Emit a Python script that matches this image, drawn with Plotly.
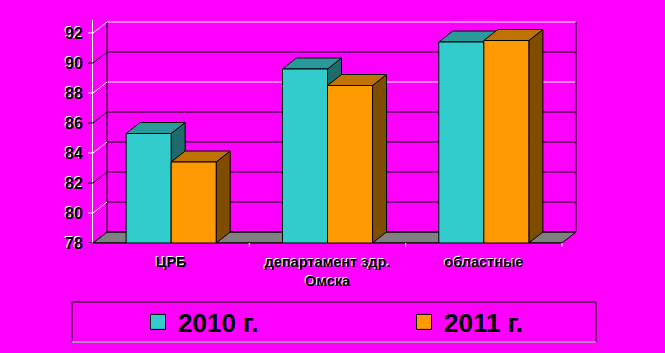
import plotly.graph_objects as go

# ---------------- data ----------------
categories = ["ЦРБ", "департамент здр.<br>Омска", "областные"]
series_names = ["2010 г.", "2011 г."]
values_2010 = [85.3, 89.6, 91.4]
values_2011 = [83.4, 88.5, 91.5]
y_ticks = [78, 80, 82, 84, 86, 88, 90, 92]

# ---------------- styles ----------------
BG = "#FF00FF"
front_colors = ["#33CCCC", "#FF9900"]
top_colors = ["#2A9999", "#BF7300"]
side_colors = ["#1F6B6B", "#804C00"]
FLOOR = "#808080"
wall_line_colors = ["black", "black", "black", "black", "black", "white", "black", "white"]
conn_colors = ["black", "white", "black", "white", "black", "white", "black", "white"]
legend_left_px = [138, 404]

W, H = 665, 353
FRONT_L, FRONT_R = 93, 562      # px of front plane x-extent
FRONT_B, FRONT_T = 243, 33      # px of front plane y-extent
DEPTH_X, DEPTH_Y = 14, 11       # px depth offset
PAD = 2

X_MIN, X_MAX = -0.5, len(categories) - 0.5
Y_MIN, Y_MAX = y_ticks[0], y_ticks[-1]
kx = (X_MAX - X_MIN) / (FRONT_R - FRONT_L)   # data per px
ky = (Y_MAX - Y_MIN) / (FRONT_B - FRONT_T)
DX = DEPTH_X * kx
DY = DEPTH_Y * ky
x_range = [X_MIN, X_MAX + DX + PAD * kx]
y_range = [Y_MIN, Y_MAX + DY + PAD * ky]
plot_right = FRONT_R + DEPTH_X + PAD
plot_top = FRONT_T - DEPTH_Y - PAD
ML, MR, MT, MB = FRONT_L, W - plot_right, plot_top, H - FRONT_B
PW = plot_right - FRONT_L
PH = FRONT_B - plot_top

BAR_W = 0.288
offsets = [-BAR_W, 0.0]
series_values = [values_2010, values_2011]
xs = list(range(len(categories)))


def poly(pts):
    return "M" + " L".join(f"{px},{py}" for px, py in pts) + " Z"


shapes = []
# floor
shapes.append(dict(type="path", xref="x", yref="y", layer="below",
                   path=poly([(X_MIN, Y_MIN), (X_MAX, Y_MIN), (X_MAX + DX, Y_MIN + DY), (X_MIN + DX, Y_MIN + DY)]),
                   fillcolor=FLOOR, line=dict(color="black", width=1)))
# back wall horizontal lines
for v, c in zip(y_ticks, wall_line_colors):
    shapes.append(dict(type="line", xref="x", yref="y", layer="below",
                       x0=X_MIN + DX, x1=X_MAX + DX, y0=v + DY, y1=v + DY,
                       line=dict(color=c, width=1)))
# back wall verticals
for xv in (X_MIN + DX, X_MAX + DX):
    shapes.append(dict(type="line", xref="x", yref="y", layer="below",
                       x0=xv, x1=xv, y0=Y_MIN + DY, y1=Y_MAX + DY,
                       line=dict(color="black", width=1)))
# connectors front axis -> back wall, and front ticks
for v, c in zip(y_ticks, conn_colors):
    shapes.append(dict(type="line", xref="x", yref="y", layer="below",
                       x0=X_MIN, x1=X_MIN + DX, y0=v, y1=v + DY,
                       line=dict(color=c, width=1)))
    shapes.append(dict(type="line", xref="paper", yref="y", layer="above",
                       x0=-5 / PW, x1=0, y0=v, y1=v,
                       line=dict(color=c, width=1)))
# bar depth faces (top and right side), drawn left to right
for i, xc in enumerate(xs):
    for s in range(len(series_names)):
        v = series_values[s][i]
        x0 = xc + offsets[s]
        x1 = x0 + BAR_W
        shapes.append(dict(type="path", xref="x", yref="y", layer="below",
                           path=poly([(x1, Y_MIN), (x1, v), (x1 + DX, v + DY), (x1 + DX, Y_MIN + DY)]),
                           fillcolor=side_colors[s], line=dict(color="black", width=1)))
        shapes.append(dict(type="path", xref="x", yref="y", layer="below",
                           path=poly([(x0, v), (x1, v), (x1 + DX, v + DY), (x0 + DX, v + DY)]),
                           fillcolor=top_colors[s], line=dict(color="black", width=1)))
# front edge of floor
shapes.append(dict(type="line", xref="x", yref="paper", layer="above",
                   x0=X_MIN, x1=X_MAX, y0=0, y1=0, line=dict(color="black", width=1)))
# category boundary ticks
for b in range(1, len(categories) + 1):
    shapes.append(dict(type="line", xref="x", yref="paper", layer="above",
                       x0=b - 0.5, x1=b - 0.5, y0=0, y1=-4 / PH,
                       line=dict(color="white", width=1)))
# legend box
LB = dict(l=72, r=596, t=302, b=342)
lx0 = (LB["l"] - FRONT_L) / PW
lx1 = (LB["r"] - FRONT_L) / PW
ly0 = (FRONT_B - LB["b"]) / PH
ly1 = (FRONT_B - LB["t"]) / PH
shapes.append(dict(type="rect", xref="paper", yref="paper", layer="above",
                   x0=lx0, x1=lx1, y0=ly0, y1=ly1, line=dict(color="black", width=1)))
shapes.append(dict(type="line", xref="paper", yref="paper", layer="above",
                   x0=lx0, x1=lx1, y0=ly0, y1=ly0, line=dict(color="white", width=1)))

fig = go.Figure()
for s, name in enumerate(series_names):
    fig.add_trace(go.Bar(
        x=xs, y=series_values[s], name=name, width=BAR_W, offset=offsets[s],
        marker=dict(color=front_colors[s], line=dict(color="black", width=1)),
        showlegend=False, hovertemplate="%{y}<extra>" + name + "</extra>"))
legend_ids = ["legend", "legend2"]
for s, name in enumerate(series_names):
    fig.add_trace(go.Scatter(
        x=[None], y=[None], mode="markers", name=name, legend=legend_ids[s],
        marker=dict(symbol="square", size=15, color=front_colors[s],
                    line=dict(color="black", width=1))))

text_shadow = "-1px -1px 0px #ffffff"
legend_font = dict(family="Liberation Sans Narrow, Liberation Sans", size=26,
                   color="black", weight="bold")


def legend_cfg(left_px):
    return dict(orientation="h", x=(left_px - FRONT_L) / PW, xanchor="left",
                y=(FRONT_B - 322) / PH, yanchor="middle",
                bgcolor="rgba(0,0,0,0)", borderwidth=0, font=legend_font)


fig.update_layout(
    width=W, height=H,
    margin=dict(l=ML, r=MR, t=MT, b=MB, pad=0, autoexpand=False),
    paper_bgcolor=BG, plot_bgcolor="rgba(0,0,0,0)",
    barmode="overlay",
    shapes=shapes,
    showlegend=True,
    legend=legend_cfg(legend_left_px[0]),
    legend2=legend_cfg(legend_left_px[1]),
    xaxis=dict(range=x_range, tickmode="array", tickvals=xs, ticktext=categories,
               showgrid=False, zeroline=False, showline=False,
               ticks="outside", ticklen=6, tickcolor="rgba(0,0,0,0)",
               tickfont=dict(family="Liberation Sans", size=14.5, color="black",
                             weight="bold", shadow=text_shadow),
               fixedrange=True),
    yaxis=dict(range=y_range, tickmode="array", tickvals=y_ticks,
               showgrid=False, zeroline=False, showline=True, linecolor="white", linewidth=1,
               ticks="outside", ticklen=6, tickcolor="rgba(0,0,0,0)",
               tickfont=dict(family="Liberation Sans", size=16, color="black",
                             weight="bold", shadow=text_shadow),
               fixedrange=True),
)

fig.write_html("out.html")
